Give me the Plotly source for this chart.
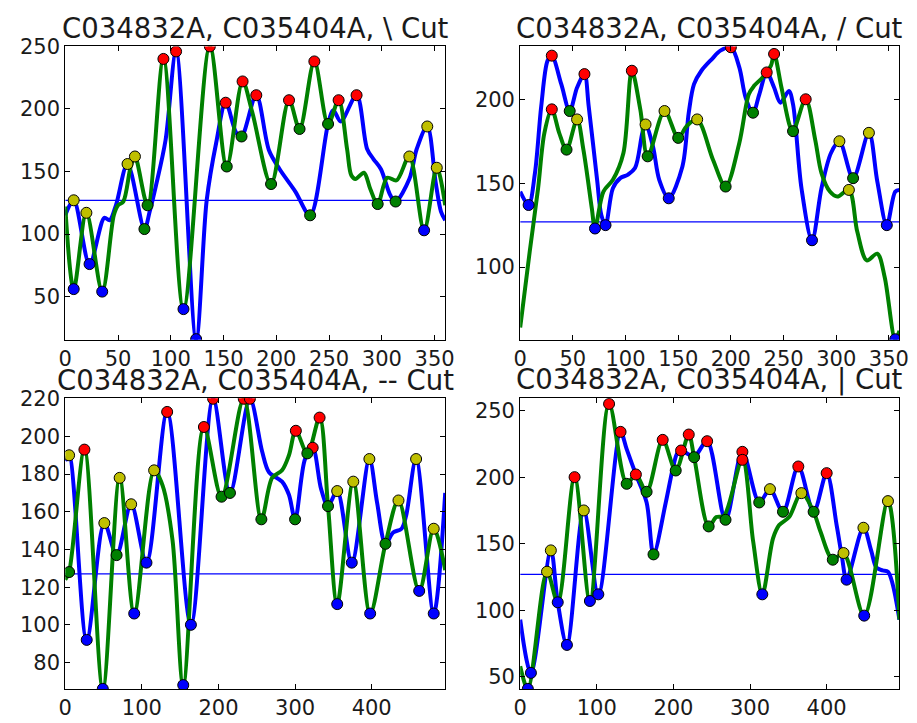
import plotly.graph_objects as go

FONT = "DejaVu Sans"
BLUE = "#0000ff"
GREEN = "#008000"
RED = "#ff0000"
YELLOW = "#bfbf00"
THRESHOLD = 127

titles = ["C034832A, C035404A, \\ Cut", "C034832A, C035404A, / Cut",
          "C034832A, C035404A, -- Cut", "C034832A, C035404A, | Cut"]

# ---- panel 1: "\" cut ----
p1_blue_x = [0, 8, 23, 37, 42, 48, 59, 75, 80, 86, 95, 105, 124, 134, 143, 152, 162, 167, 181, 193, 203, 218, 232, 249, 254, 261, 276, 286, 292, 299, 308, 313, 326, 333, 343, 351, 356, 360]
p1_blue_y = [115, 127, 76, 113, 111, 123, 156, 104, 118, 139, 175, 246, 16, 127, 173, 205, 181, 178, 211, 167, 152, 134, 115, 188, 199, 190, 211, 168, 160, 152, 131, 126, 144, 168, 186, 141, 118, 111]
p1_green_x = [0, 8, 20, 35, 46, 50, 55, 62, 66, 78, 93, 112, 137, 153, 168, 177, 195, 212, 222, 236, 249, 259, 267, 271, 275, 283, 289, 296, 305, 314, 326, 340, 352, 360]
p1_green_y = [122, 56, 117, 54, 115, 123, 126, 154, 162, 123, 240, 40, 250, 154, 222, 198, 140, 207, 184, 238, 188, 207, 168, 147, 144, 149, 136, 124, 145, 143, 162, 103, 153, 123]
p1_red_x = [93, 105, 137, 152, 168, 181, 212, 236, 259, 276]
p1_red_y = [240, 246, 250, 205, 222, 211, 207, 238, 207, 211]
p1_yellow_x = [8, 20, 59, 66, 326, 343, 352]
p1_yellow_y = [127, 117, 156, 162, 162, 186, 153]
p1_green_pt_x = [75, 78, 153, 167, 195, 222, 232, 249, 296, 313]
p1_green_pt_y = [104, 123, 154, 178, 140, 184, 115, 188, 124, 126]
p1_blue_pt_x = [8, 23, 35, 112, 124, 340]
p1_blue_pt_y = [56, 76, 54, 40, 16, 103]

# ---- panel 2: "/" cut ----
p2_blue_x = [0, 8, 14, 20, 26, 30, 39, 47, 54, 61, 65, 73, 77, 81, 88, 95, 102, 109, 116, 119, 126, 132, 141, 154, 160, 165, 172, 182, 190, 200, 208, 214, 221, 227, 234, 241, 247, 255, 259, 267, 277, 286, 295, 303, 316, 331, 339, 348, 356, 360]
p2_blue_y = [145, 137, 156, 196, 223, 226, 209, 193, 207, 215, 196, 152, 131, 125, 147, 153, 155, 159, 180, 185, 172, 152, 141, 160, 192, 209, 217, 224, 229, 231, 219, 201, 192, 203, 216, 207, 198, 205, 197, 147, 116, 147, 168, 175, 153, 180, 151, 125, 145, 146]
p2_green_x = [0, 9, 17, 23, 30, 37, 44, 54, 60, 68, 71, 79, 88, 98, 106, 114, 121, 137, 150, 158, 168, 183, 195, 208, 217, 222, 230, 238, 241, 248, 256, 259, 271, 280, 286, 294, 301, 312, 320, 329, 339, 346, 356, 360]
p2_green_y = [64, 109, 147, 180, 194, 180, 170, 188, 170, 135, 123, 145, 152, 168, 217, 194, 166, 193, 177, 184, 188, 164, 148, 174, 203, 208, 213, 220, 227, 207, 184, 181, 200, 176, 156, 145, 142, 146, 121, 104, 108, 94, 57, 62]
p2_red_x = [30, 30, 61, 106, 200, 234, 241, 271]
p2_red_y = [226, 194, 215, 217, 231, 216, 227, 200]
p2_yellow_x = [54, 119, 137, 168, 303, 312, 331]
p2_yellow_y = [188, 185, 193, 188, 175, 146, 180]
p2_green_pt_x = [44, 47, 121, 150, 195, 221, 259, 316]
p2_green_pt_y = [170, 193, 166, 177, 148, 192, 181, 153]
p2_blue_pt_x = [8, 71, 81, 141, 277, 348, 356]
p2_blue_pt_y = [137, 123, 125, 141, 116, 125, 57]

# ---- panel 3: "--" cut ----
p3_blue_x = [0, 5, 28, 51, 67, 86, 106, 133, 164, 193, 215, 241, 257, 266, 283, 292, 300, 313, 323, 334, 343, 355, 374, 397, 407, 418, 428, 439, 445, 458, 481, 496]
p3_blue_y = [187, 190, 92, 154, 137, 164, 133, 213, 100, 220, 170, 220, 192, 181, 176, 169, 156, 188, 194, 172, 163, 171, 133, 188, 165, 143, 149, 151, 158, 188, 106, 170]
p3_green_x = [0, 5, 25, 49, 71, 90, 116, 127, 140, 154, 181, 204, 233, 256, 270, 283, 292, 301, 316, 332, 343, 355, 376, 398, 418, 435, 462, 481, 496]
p3_green_y = [124, 128, 193, 66, 178, 106, 182, 174, 145, 68, 205, 168, 220, 156, 178, 182, 190, 203, 191, 210, 163, 111, 176, 106, 143, 166, 118, 151, 129]
p3_red_x = [25, 133, 181, 193, 233, 241, 301, 323, 332]
p3_red_y = [193, 213, 205, 220, 220, 220, 203, 194, 210]
p3_yellow_x = [5, 51, 71, 86, 116, 355, 376, 397, 435, 458, 481]
p3_yellow_y = [190, 154, 178, 164, 182, 171, 176, 188, 166, 188, 151]
p3_green_pt_x = [5, 67, 204, 215, 256, 300, 316, 343, 418]
p3_green_pt_y = [128, 137, 168, 170, 156, 156, 191, 163, 143]
p3_blue_pt_x = [28, 49, 90, 106, 154, 164, 355, 374, 398, 462, 481]
p3_blue_pt_y = [92, 66, 106, 133, 68, 100, 111, 133, 106, 118, 106]

# ---- panel 4: "|" cut ----
p4_blue_x = [0, 14, 40, 49, 61, 83, 102, 131, 139, 151, 165, 174, 190, 199, 205, 210, 220, 227, 244, 268, 290, 312, 326, 343, 363, 383, 400, 413, 420, 426, 448, 458, 465, 473, 480, 486, 495]
p4_blue_y = [93, 53, 145, 106, 74, 175, 112, 234, 221, 202, 181, 142, 181, 206, 218, 220, 217, 215, 227, 168, 219, 181, 191, 174, 208, 174, 203, 164, 140, 123, 162, 145, 132, 130, 129, 120, 93]
p4_green_x = [0, 10, 35, 49, 71, 91, 116, 139, 151, 165, 186, 203, 220, 227, 246, 256, 266, 290, 304, 316, 330, 338, 351, 367, 383, 392, 408, 422, 449, 480, 495]
p4_green_y = [58, 41, 129, 106, 200, 107, 255, 195, 202, 189, 228, 205, 232, 215, 163, 170, 171, 213, 152, 112, 154, 164, 170, 188, 174, 159, 138, 143, 96, 182, 93]
p4_red_x = [71, 116, 131, 151, 186, 210, 220, 244, 290, 290, 363, 400]
p4_red_y = [200, 255, 234, 202, 228, 220, 232, 227, 219, 213, 208, 203]
p4_yellow_x = [35, 40, 83, 326, 367, 422, 448, 480]
p4_yellow_y = [129, 145, 175, 191, 188, 143, 162, 182]
p4_green_pt_x = [139, 165, 174, 203, 227, 246, 268, 312, 343, 383, 408]
p4_green_pt_y = [195, 189, 142, 205, 215, 163, 168, 181, 174, 174, 138]
p4_blue_pt_x = [10, 14, 49, 61, 91, 102, 316, 426, 449]
p4_blue_pt_y = [41, 53, 106, 74, 107, 112, 112, 123, 96]

x_ranges = [[0, 360], [0, 360], [0, 496], [0, 495]]
y_ranges = [[15.5, 250], [56.7, 231.5], [66, 220.3], [41, 259.3]]
x_ticks = [list(range(0, 351, 50)), list(range(0, 351, 50)), list(range(0, 401, 100)), list(range(0, 401, 100))]
y_ticks = [list(range(50, 251, 50)), [100, 150, 200], list(range(80, 221, 20)), list(range(50, 251, 50))]

panels = [
    (p1_blue_x, p1_blue_y, p1_green_x, p1_green_y, p1_red_x, p1_red_y, p1_yellow_x, p1_yellow_y,
     p1_green_pt_x, p1_green_pt_y, p1_blue_pt_x, p1_blue_pt_y),
    (p2_blue_x, p2_blue_y, p2_green_x, p2_green_y, p2_red_x, p2_red_y, p2_yellow_x, p2_yellow_y,
     p2_green_pt_x, p2_green_pt_y, p2_blue_pt_x, p2_blue_pt_y),
    (p3_blue_x, p3_blue_y, p3_green_x, p3_green_y, p3_red_x, p3_red_y, p3_yellow_x, p3_yellow_y,
     p3_green_pt_x, p3_green_pt_y, p3_blue_pt_x, p3_blue_pt_y),
    (p4_blue_x, p4_blue_y, p4_green_x, p4_green_y, p4_red_x, p4_red_y, p4_yellow_x, p4_yellow_y,
     p4_green_pt_x, p4_green_pt_y, p4_blue_pt_x, p4_blue_pt_y),
]

W, H = 917, 723
# axes boxes in pixels: left, right, top, bottom
boxes = [(59.3, 446.0, 35.0, 333.3), (522.3, 908.3, 35.0, 333.3),
         (59.3, 446.0, 392.7, 688.3), (522.3, 908.3, 392.7, 688.3)]

fig = go.Figure()
layout = {}
annotations = []
for i, (box, data) in enumerate(zip(boxes, panels)):
    n = "" if i == 0 else str(i + 1)
    xa, ya = "x" + n, "y" + n
    bx, by, gx, gy, rx, ry, yx, yy, gpx, gpy, bpx, bpy = data
    # threshold line
    fig.add_trace(go.Scatter(x=x_ranges[i], y=[THRESHOLD, THRESHOLD], mode="lines",
                             line=dict(color=BLUE, width=1.2), xaxis=xa, yaxis=ya,
                             showlegend=False, hoverinfo="skip"))
    fig.add_trace(go.Scatter(x=bx, y=by, mode="lines", line=dict(color=BLUE, width=4, shape="spline", smoothing=0.9),
                             xaxis=xa, yaxis=ya, showlegend=False))
    fig.add_trace(go.Scatter(x=gx, y=gy, mode="lines", line=dict(color=GREEN, width=4, shape="spline", smoothing=0.9),
                             xaxis=xa, yaxis=ya, showlegend=False))
    for px, py, col in ((rx, ry, RED), (yx, yy, YELLOW), (gpx, gpy, GREEN), (bpx, bpy, BLUE)):
        fig.add_trace(go.Scatter(x=px, y=py, mode="markers",
                                 marker=dict(color=col, size=11, line=dict(color="black", width=1)),
                                 xaxis=xa, yaxis=ya, showlegend=False))
    l, r, t, b = box
    axis_common = dict(showline=True, linecolor="black", linewidth=1, mirror="allticks",
                       ticks="inside", ticklen=5, tickwidth=1, tickcolor="black",
                       showgrid=False, zeroline=False,
                       tickfont=dict(family=FONT, size=21, color="#1a1a1a"))
    layout["xaxis" + n] = dict(domain=[l / W, r / W], range=x_ranges[i], anchor=ya,
                               tickvals=x_ticks[i], **axis_common)
    layout["yaxis" + n] = dict(domain=[1 - b / H, 1 - t / H], range=y_ranges[i], anchor=xa,
                               tickvals=y_ticks[i], **axis_common)
    annotations.append(dict(text=titles[i], x=(l + r) / 2 / W, y=1 - t / H, xref="paper", yref="paper",
                            xanchor="center", yanchor="bottom", showarrow=False, yshift=0,
                            font=dict(family=FONT, size=27.5, color="#1a1a1a")))

fig.update_layout(**layout)
fig.update_layout(width=W, height=H, margin=dict(l=0, r=0, t=0, b=0),
                  paper_bgcolor="white", plot_bgcolor="white",
                  annotations=annotations, font=dict(family=FONT))
fig.write_html("out.html")
